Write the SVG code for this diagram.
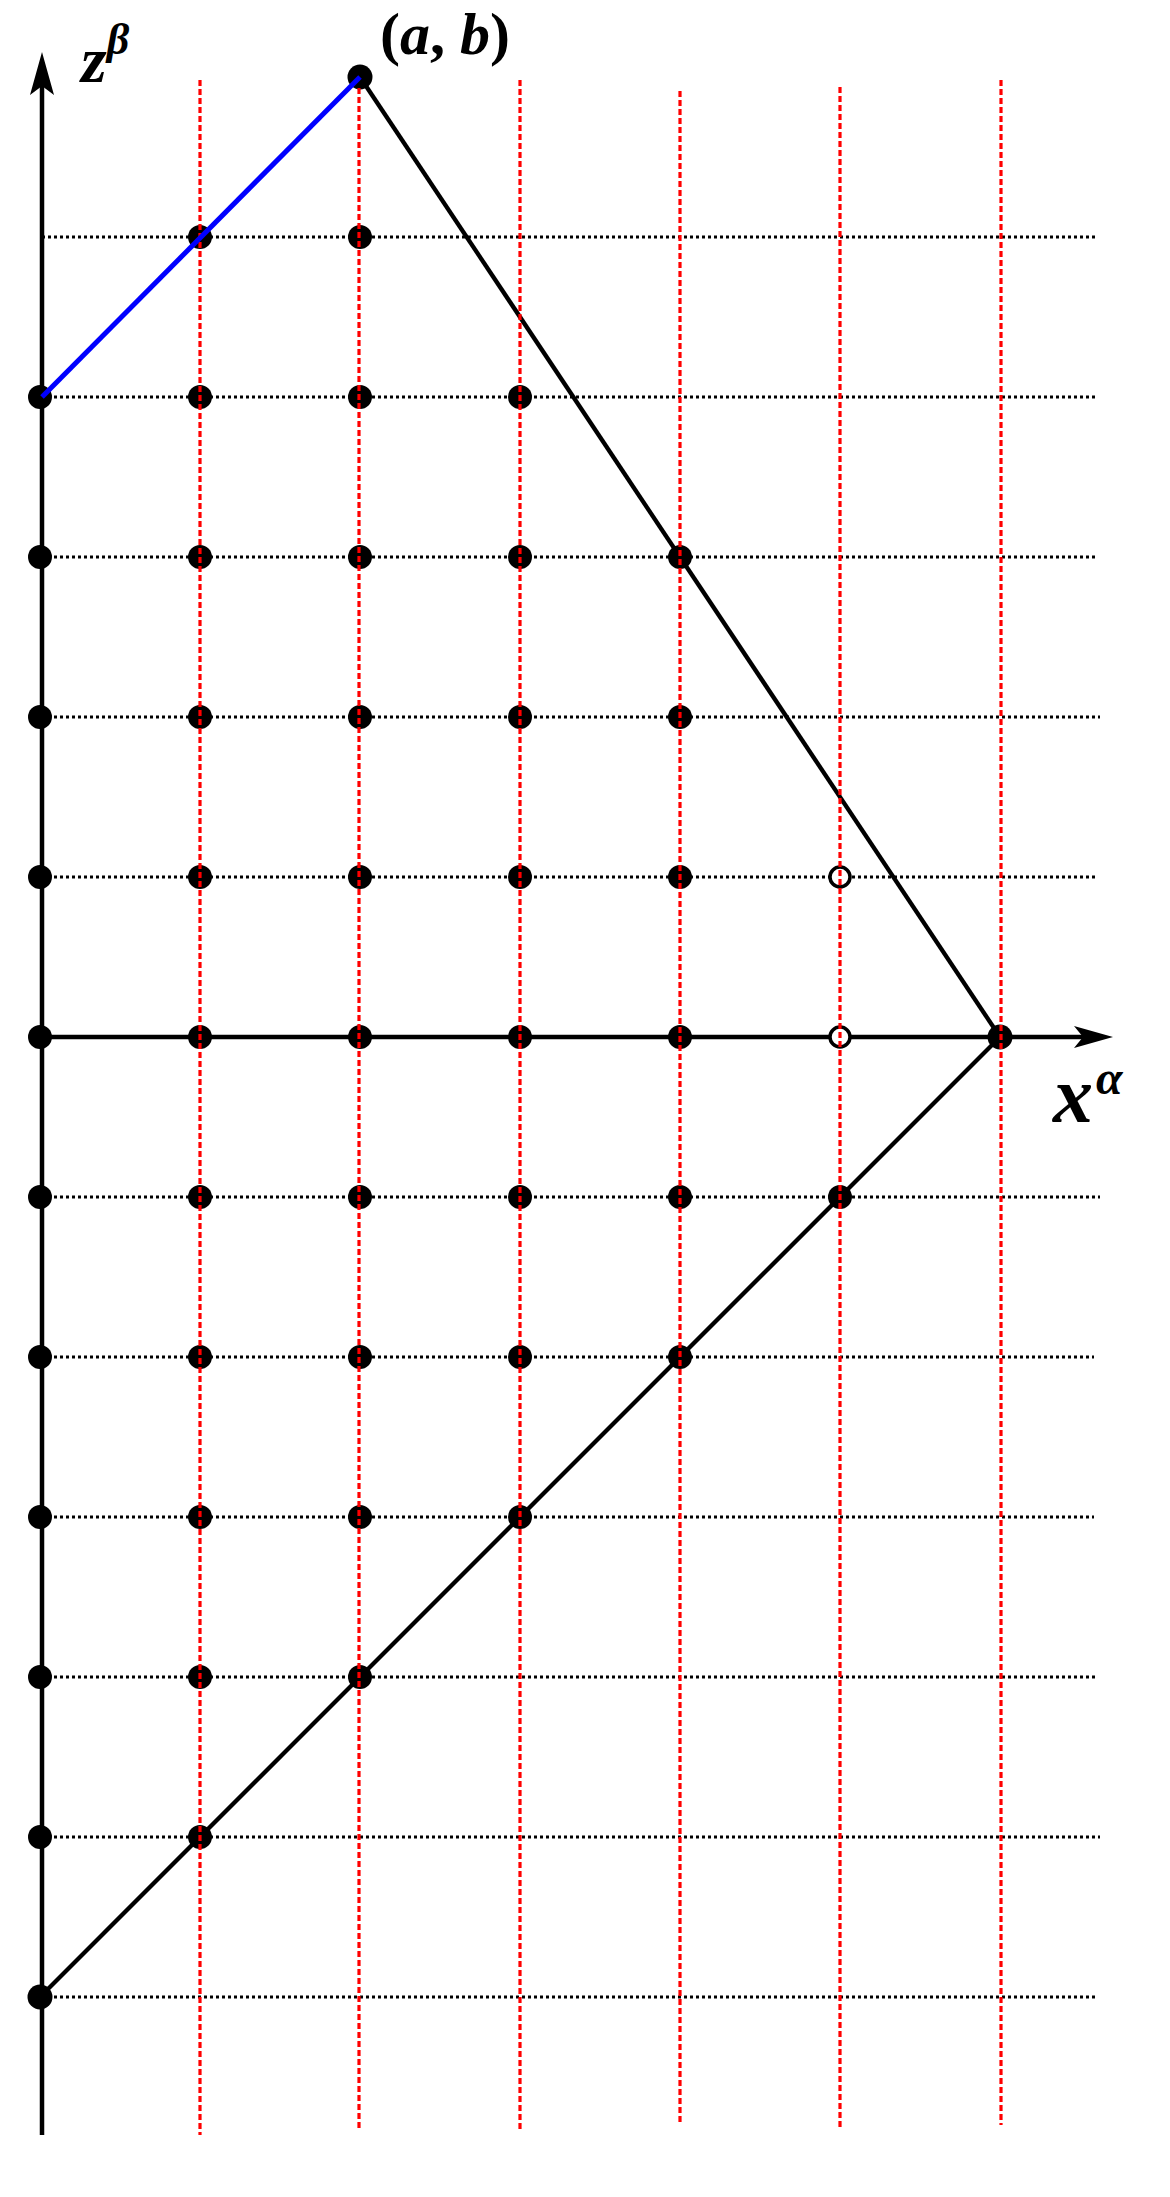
<svg xmlns="http://www.w3.org/2000/svg" width="1170" height="2197" viewBox="0 0 1170 2197">
<style>
.grid{stroke:#000;stroke-width:2.8;stroke-dasharray:3 3;fill:none}
.red{stroke:#ff0000;stroke-width:3.2;stroke-dasharray:6 3;fill:none}
.axis{stroke:#000;stroke-width:4.5;fill:none}
.edge{stroke:#000;stroke-width:4.3;fill:none}
.blue{stroke:#0000ff;stroke-width:5;fill:none}
.dot{fill:#000}
.open{fill:#fff;stroke:#000;stroke-width:3.5}
.lbl{font-family:"Liberation Serif","Times New Roman",serif;font-weight:bold;fill:#000}
</style>
<rect width="1170" height="2197" fill="#fff"/>
<g id="grid-lines">
<line class="grid" x1="42" y1="237" x2="1098" y2="237"/>
<line class="grid" x1="42" y1="397" x2="1096" y2="397"/>
<line class="grid" x1="42" y1="557" x2="1098" y2="557"/>
<line class="grid" x1="42" y1="717" x2="1100" y2="717"/>
<line class="grid" x1="42" y1="877" x2="1098" y2="877"/>
<line class="grid" x1="42" y1="1197" x2="1100" y2="1197"/>
<line class="grid" x1="42" y1="1357" x2="1094" y2="1357"/>
<line class="grid" x1="42" y1="1517" x2="1094" y2="1517"/>
<line class="grid" x1="42" y1="1677" x2="1098" y2="1677"/>
<line class="grid" x1="42" y1="1837" x2="1100" y2="1837"/>
<line class="grid" x1="42" y1="1997" x2="1096" y2="1997"/>
</g>
<g id="connectors">
<line id="z-axis" class="axis" x1="42" y1="2135" x2="42" y2="80"/>
<polygon points="42,52 54,95 42,86 30,95" fill="#000"/>
<line id="x-axis" class="axis" x1="42" y1="1037" x2="1085" y2="1037"/>
<polygon points="1113,1037 1074,1026 1083,1037 1074,1048" fill="#000"/>
<line id="edge-top" class="edge" x1="360" y1="77" x2="1000" y2="1037"/>
<line id="edge-bottom" class="edge" x1="40" y1="1997" x2="1000" y2="1037"/>
</g>
<g id="nodes">
<g id="row-z6"><circle class="dot" cx="360" cy="77" r="12.5"/></g>
<g id="row-z5"><circle class="dot" cx="200" cy="237" r="12"/><circle class="dot" cx="360" cy="237" r="12"/></g>
<g id="row-z4"><circle class="dot" cx="40" cy="397" r="12"/><circle class="dot" cx="200" cy="397" r="12"/><circle class="dot" cx="360" cy="397" r="12"/><circle class="dot" cx="520" cy="397" r="12"/></g>
<g id="row-z3"><circle class="dot" cx="40" cy="557" r="12"/><circle class="dot" cx="200" cy="557" r="12"/><circle class="dot" cx="360" cy="557" r="12"/><circle class="dot" cx="520" cy="557" r="12"/><circle class="dot" cx="680" cy="557" r="12"/></g>
<g id="row-z2"><circle class="dot" cx="40" cy="717" r="12"/><circle class="dot" cx="200" cy="717" r="12"/><circle class="dot" cx="360" cy="717" r="12"/><circle class="dot" cx="520" cy="717" r="12"/><circle class="dot" cx="680" cy="717" r="12"/></g>
<g id="row-z1"><circle class="dot" cx="40" cy="877" r="12"/><circle class="dot" cx="200" cy="877" r="12"/><circle class="dot" cx="360" cy="877" r="12"/><circle class="dot" cx="520" cy="877" r="12"/><circle class="dot" cx="680" cy="877" r="12"/><circle class="open" cx="840" cy="877" r="10"/></g>
<g id="row-z0"><circle class="dot" cx="40" cy="1037" r="12"/><circle class="dot" cx="200" cy="1037" r="12"/><circle class="dot" cx="360" cy="1037" r="12"/><circle class="dot" cx="520" cy="1037" r="12"/><circle class="dot" cx="680" cy="1037" r="12"/><circle class="open" cx="840" cy="1037" r="10"/><circle class="dot" cx="1000" cy="1037" r="12.5"/></g>
<g id="row-zm1"><circle class="dot" cx="40" cy="1197" r="12"/><circle class="dot" cx="200" cy="1197" r="12"/><circle class="dot" cx="360" cy="1197" r="12"/><circle class="dot" cx="520" cy="1197" r="12"/><circle class="dot" cx="680" cy="1197" r="12"/><circle class="dot" cx="840" cy="1197" r="12"/></g>
<g id="row-zm2"><circle class="dot" cx="40" cy="1357" r="12"/><circle class="dot" cx="200" cy="1357" r="12"/><circle class="dot" cx="360" cy="1357" r="12"/><circle class="dot" cx="520" cy="1357" r="12"/><circle class="dot" cx="680" cy="1357" r="12"/></g>
<g id="row-zm3"><circle class="dot" cx="40" cy="1517" r="12"/><circle class="dot" cx="200" cy="1517" r="12"/><circle class="dot" cx="360" cy="1517" r="12"/><circle class="dot" cx="520" cy="1517" r="12"/></g>
<g id="row-zm4"><circle class="dot" cx="40" cy="1677" r="12"/><circle class="dot" cx="200" cy="1677" r="12"/><circle class="dot" cx="360" cy="1677" r="12"/></g>
<g id="row-zm5"><circle class="dot" cx="40" cy="1837" r="12"/><circle class="dot" cx="200" cy="1837" r="12"/></g>
<g id="row-zm6"><circle class="dot" cx="40" cy="1997" r="12.5"/></g>
</g>
<g id="red-columns">
<line class="red" x1="200" y1="80" x2="200" y2="2135"/>
<line class="red" x1="359" y1="88" x2="359" y2="2130"/>
<line class="red" x1="520" y1="80" x2="520" y2="2132"/>
<line class="red" x1="680" y1="91" x2="680" y2="2125"/>
<line class="red" x1="840" y1="87" x2="840" y2="2128"/>
<line class="red" x1="1001" y1="80" x2="1001" y2="2125"/>
</g>
<g id="blue-path">
<line class="blue" x1="42" y1="397" x2="360" y2="77"/>
</g>
<g id="labels">
<text class="lbl" x="380" y="54" font-size="60">(<tspan font-style="italic">a</tspan>, <tspan font-style="italic">b</tspan>)</text>
<text class="lbl" x="81" y="82" font-size="66" font-style="italic">z<tspan font-size="44" dy="-28">β</tspan></text>
<text class="lbl" x="1053" y="1122" font-size="80" font-style="italic">x</text>
<text class="lbl" x="1096" y="1094" font-size="48" font-style="italic">α</text>
</g>
</svg>
